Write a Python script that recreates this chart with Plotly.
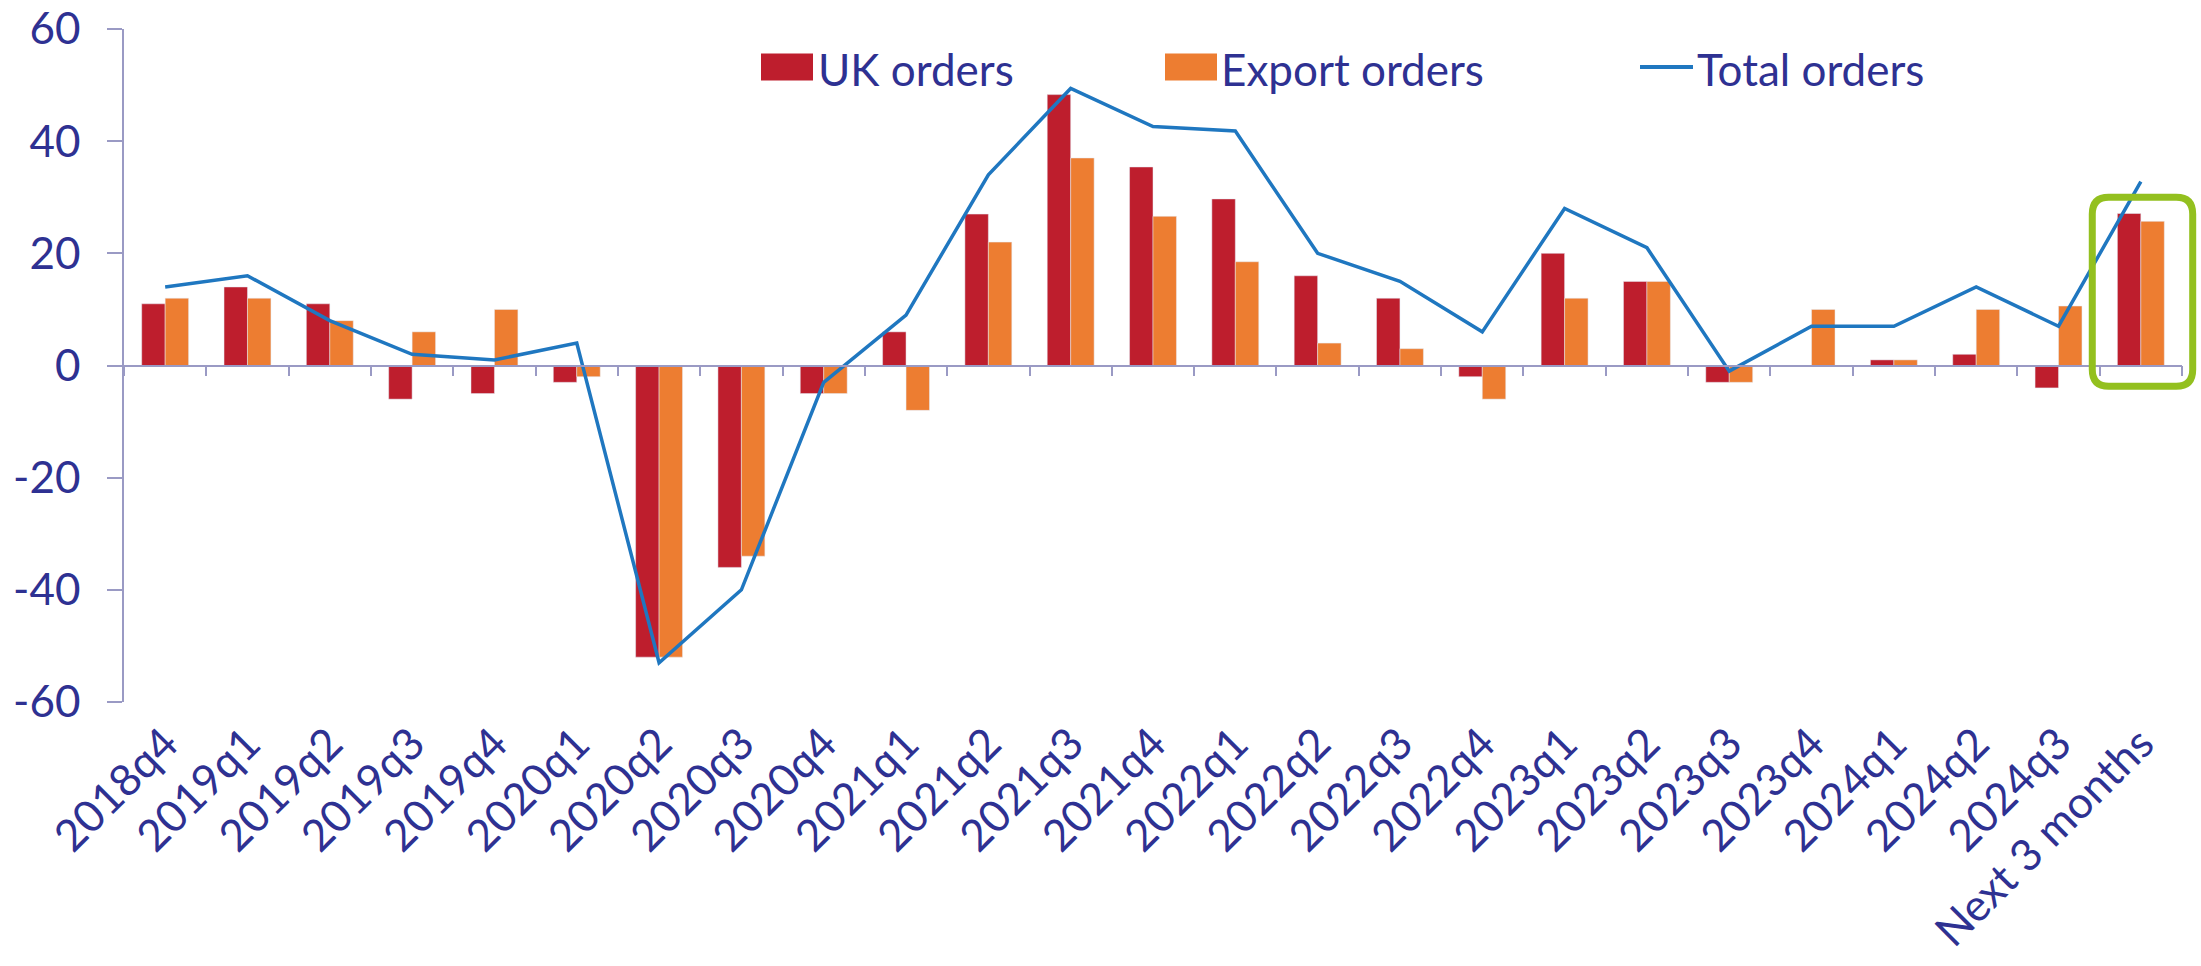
import plotly.graph_objects as go

categories = ["2018q4", "2019q1", "2019q2", "2019q3", "2019q4", "2020q1", "2020q2", "2020q3",
              "2020q4", "2021q1", "2021q2", "2021q3", "2021q4", "2022q1", "2022q2", "2022q3",
              "2022q4", "2023q1", "2023q2", "2023q3", "2023q4", "2024q1", "2024q2", "2024q3",
              "Next 3 months"]
uk_orders = [11, 14, 11, -6, -5, -3, -52, -36, -5, 6, 27, 48.3, 35.4, 29.7, 16, 12,
             -2, 20, 15, -3, 0, 1, 2, -4, 27.1]
export_orders = [12, 12, 8, 6, 10, -2, -52, -34, -5, -8, 22, 37, 26.6, 18.5, 4, 3,
                 -6, 12, 15, -3, 10, 1, 10, 10.6, 25.7]
total_orders = [14, 16, 8, 2, 1, 4, -53, -40, -3, 9, 34, 49.4, 42.6, 41.8, 20, 15,
                6, 28, 21, -1, 7, 7, 14, 7, 32.8]
y_ticks = [-60, -40, -20, 0, 20, 40, 60]
y_tick_text = ["-60", "-40", "-20", "0", "20", "40", "60"]

RED = "#BE1E2D"
ORANGE = "#ED7D31"
BLUE = "#1F77C0"
GREEN = "#93C01F"
TEXT = "#2E3192"
AXIS = "#9A9AC4"
FONT = "Lato, 'Open Sans', sans-serif"
FS = 44

W, H = 2201, 966
ML, MR, MT, MB = 124, 19, 29, 264
PW, PH = W - ML - MR, H - MT - MB
Y_MIN, Y_MAX = -60, 60


def px(x):
    return (x - ML) / PW


def py(y):
    return (H - MB - y) / PH


def vy(v):
    # data value -> paper y
    return (v - Y_MIN) / (Y_MAX - Y_MIN)


def cx(i):
    # category position -> paper x
    return (i + 0.5) / n


n = len(categories)
fig = go.Figure()
fig.add_trace(go.Bar(x=categories, y=uk_orders, name="UK orders", marker_color=RED,
                     showlegend=False))
fig.add_trace(go.Bar(x=categories, y=export_orders, name="Export orders", marker_color=ORANGE,
                     showlegend=False))
fig.add_trace(go.Scatter(x=categories, y=total_orders, name="Total orders", mode="lines",
                         line=dict(color=BLUE, width=3.5), showlegend=False))
# invisible helper trace so the zero-line axis (x2) is rendered
fig.add_trace(go.Scatter(x=list(range(n)), y=total_orders, xaxis="x2", mode="lines",
                         opacity=0, hoverinfo="skip", showlegend=False))

fig.update_layout(
    width=W, height=H,
    margin=dict(l=ML, r=MR, t=MT, b=MB, autoexpand=False),
    paper_bgcolor="white", plot_bgcolor="white",
    barmode="group", bargap=0.43, bargroupgap=0,
    font=dict(family=FONT, size=FS, color=TEXT),
    xaxis=dict(type="category", range=[-0.5, n - 0.5], showline=False, ticks="",
               showgrid=False, zeroline=False, tickangle=-45, automargin=False,
               tickfont=dict(family=FONT, size=FS, color=TEXT), ticklabelstandoff=6),
    xaxis2=dict(overlaying="x", anchor="free", position=0.5, range=[-0.5, n - 0.5],
                tickvals=[i - 0.5 for i in range(n + 1)], ticks="outside", ticklen=10,
                tickcolor=AXIS, tickwidth=1.5, showticklabels=False, showline=True,
                linecolor=AXIS, linewidth=1.5, showgrid=False, zeroline=False,
                automargin=False),
    yaxis=dict(range=[Y_MIN, Y_MAX], tickvals=y_ticks, ticktext=y_tick_text,
               ticks="outside", ticklen=15, automargin=False, ticklabeloverflow="allow",
               tickcolor=AXIS, tickwidth=1.5, showline=True, linecolor=AXIS, linewidth=1.5,
               showgrid=False, zeroline=False, ticklabelstandoff=18,
               tickfont=dict(family=FONT, size=FS, color=TEXT)),
)

# highlight box around the forecast (paper coords so it is not clipped at the edge)
bx0, bx1 = cx(n - 1) - 0.59 / n, cx(n - 1) + 0.63 / n
by0, by1 = vy(-3.7), vy(30.0)
rx, ry = 0.2 / n, 3.0 / (Y_MAX - Y_MIN)
path = (f"M {bx0+rx},{by1} L {bx1-rx},{by1} Q {bx1},{by1} {bx1},{by1-ry} L {bx1},{by0+ry} "
        f"Q {bx1},{by0} {bx1-rx},{by0} L {bx0+rx},{by0} Q {bx0},{by0} {bx0},{by0+ry} "
        f"L {bx0},{by1-ry} Q {bx0},{by1} {bx0+rx},{by1} Z")
fig.add_shape(type="path", path=path, xref="paper", yref="paper",
              line=dict(color=GREEN, width=7), layer="above")

# legend drawn manually to match the original swatch sizes
ly = 67
items = [("UK orders", "bar", RED, 761, 813, 816),
         ("Export orders", "bar", ORANGE, 1165, 1217, 1219),
         ("Total orders", "line", BLUE, 1640, 1693, 1695)]
for label, kind, color, sx0, sx1, tx in items:
    if kind == "bar":
        fig.add_shape(type="rect", xref="paper", yref="paper", x0=px(sx0), x1=px(sx1),
                      y0=py(ly - 13.5), y1=py(ly + 13.5), fillcolor=color, line_width=0)
    else:
        fig.add_shape(type="line", xref="paper", yref="paper", x0=px(sx0), x1=px(sx1),
                      y0=py(ly), y1=py(ly), line=dict(color=color, width=4))
    fig.add_annotation(text=label, xref="paper", yref="paper", x=px(tx), y=py(ly + 2),
                       xanchor="left", yanchor="middle", showarrow=False,
                       font=dict(family=FONT, size=FS, color=TEXT))

fig.write_html("out.html", config={"displayModeBar": False},
               post_script="document.body.style.margin='0';"
                           "document.body.style.overflow='hidden';")
